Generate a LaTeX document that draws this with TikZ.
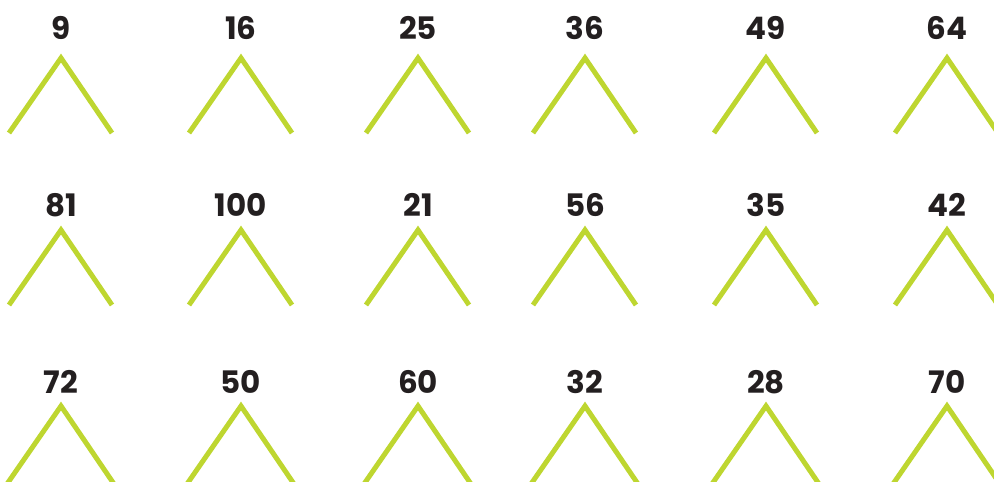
\documentclass[tikz,border=0pt]{standalone}
\usepackage{fontspec}
\setmainfont{Poppins}[BoldFont={* Bold}]
\definecolor{lime}{RGB}{190,214,48}
\definecolor{ink}{RGB}{35,31,32}
\begin{document}
\begin{tikzpicture}[x=1pt,y=-1pt,
  num/.style={text=ink,font=\fontsize{31}{31}\selectfont\bfseries,inner sep=0pt,anchor=base},
  branch/.style={draw=lime,line width=5pt,line join=miter,line cap=butt}]
\useasboundingbox (0,0) rectangle (994,482);
\clip (0,0) rectangle (994,482);
\foreach \n [count=\i] in {9,16,25,36,49,64}{
  \pgfmathsetmacro{\cx}{{61,241,418,585,766,947}[\i-1]}
  \node[num] (a\i) at (\cx,39) {\n};
  \coordinate (pa\i) at (\cx,58);
  \coordinate (la\i) at (\cx-52,133);
  \coordinate (ra\i) at (\cx+51,133);
  \draw[branch] (la\i) -- (pa\i) -- (ra\i);
}
\foreach \n [count=\i] in {81,100,21,56,35,42}{
  \pgfmathsetmacro{\cx}{{61,241,418,585,766,947}[\i-1]}
  \node[num] (b\i) at (\cx,216) {\n};
  \coordinate (pb\i) at (\cx,230);
  \coordinate (lb\i) at (\cx-52,305);
  \coordinate (rb\i) at (\cx+51,305);
  \draw[branch] (lb\i) -- (pb\i) -- (rb\i);
}
\foreach \n [count=\i] in {72,50,60,32,28,70}{
  \pgfmathsetmacro{\cx}{{61,241,418,585,766,947}[\i-1]}
  \node[num] (c\i) at (\cx,393) {\n};
  \coordinate (pc\i) at (\cx,406);
  \coordinate (lc\i) at (\cx-54,484);
  \coordinate (rc\i) at (\cx+53,484);
  \draw[branch] (lc\i) -- (pc\i) -- (rc\i);
}
\end{tikzpicture}
\end{document}
